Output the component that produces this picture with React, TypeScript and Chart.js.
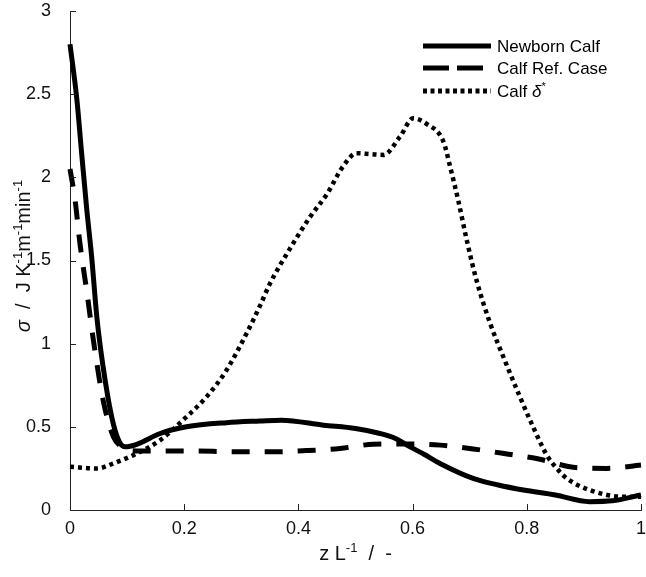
import React, { useEffect, useRef } from 'react';
import { Chart, registerables } from 'chart.js';

Chart.register(...registerables);

// ---- data ----
const NEWBORN_X = [0, 0.012, 0.02, 0.029, 0.038, 0.047, 0.058, 0.073, 0.085, 0.096, 0.117, 0.158, 0.204, 0.274, 0.333, 0.37, 0.444, 0.5, 0.543, 0.57, 0.59, 0.62, 0.648, 0.706, 0.75, 0.794, 0.85, 0.91, 0.95, 1.0];
const NEWBORN_Y = [2.8, 2.47, 2.16, 1.82, 1.52, 1.16, 0.86, 0.56, 0.42, 0.38, 0.395, 0.46, 0.5, 0.525, 0.535, 0.54, 0.51, 0.49, 0.46, 0.43, 0.39, 0.335, 0.28, 0.19, 0.15, 0.12, 0.09, 0.05, 0.055, 0.09];

const REF_X = [0, 0.009, 0.0175, 0.03, 0.041, 0.058, 0.076, 0.09, 0.099, 0.128, 0.2, 0.3, 0.356, 0.414, 0.473, 0.531, 0.59, 0.648, 0.706, 0.765, 0.823, 0.881, 0.94, 1.0];
const REF_Y = [2.05, 1.86, 1.6, 1.3, 1.02, 0.66, 0.44, 0.38, 0.36, 0.355, 0.355, 0.35, 0.35, 0.357, 0.37, 0.395, 0.397, 0.39, 0.367, 0.337, 0.305, 0.257, 0.25, 0.27];

const DELTA_X = [0, 0.047, 0.076, 0.117, 0.158, 0.204, 0.239, 0.274, 0.309, 0.333, 0.35, 0.385, 0.42, 0.45, 0.479, 0.502, 0.525, 0.549, 0.578, 0.601, 0.625, 0.654, 0.666, 0.68, 0.695, 0.712, 0.736, 0.759, 0.788, 0.811, 0.835, 0.855, 0.87, 0.91, 0.969, 1.0];
const DELTA_Y = [0.26, 0.25, 0.28, 0.34, 0.42, 0.56, 0.68, 0.84, 1.06, 1.23, 1.36, 1.57, 1.76, 1.9, 2.07, 2.145, 2.14, 2.135, 2.245, 2.355, 2.32, 2.215, 2.06, 1.86, 1.62, 1.38, 1.12, 0.92, 0.68, 0.5, 0.33, 0.24, 0.19, 0.12, 0.08, 0.08];

const SERIES_LABELS = ['Newborn Calf', 'Calf Ref. Case', 'Calf δ*'];

const X_TICKS = [0, 0.2, 0.4, 0.6, 0.8, 1];
const X_TICK_LABELS = ['0', '0.2', '0.4', '0.6', '0.8', '1'];
const Y_TICKS = [0, 0.5, 1, 1.5, 2, 2.5, 3];
const Y_TICK_LABELS = ['0', '0.5', '1', '1.5', '2', '2.5', '3'];

type Seg = { t: string; it?: boolean; sup?: boolean };
const LEGEND_TEXT: Seg[][] = [
  [{ t: 'Newborn Calf' }],
  [{ t: 'Calf Ref. Case' }],
  [{ t: 'Calf ' }, { t: 'δ', it: true }, { t: '*', sup: true }],
];
const Y_TITLE: Seg[] = [
  { t: 'σ', it: true }, { t: '  /  J K' }, { t: '-1', sup: true }, { t: 'm' }, { t: '-1', sup: true }, { t: 'min' }, { t: '-1', sup: true },
];
const X_TITLE: Seg[] = [{ t: 'z L' }, { t: '-1', sup: true }, { t: '  /  -' }];

const FONT = '"Liberation Sans", Arial, Helvetica, sans-serif';
const DASHES: number[][] = [[], [18, 15], [4, 4]];
const LEGEND_DASHES: number[][] = [[], [26, 8], [4, 3.5]];

function segFont(s: Seg, size: number) {
  const sz = s.sup ? Math.round(size * 0.64) : size;
  return `${s.it ? 'italic ' : ''}${sz}px ${FONT}`;
}

function drawRich(ctx: CanvasRenderingContext2D, segs: Seg[], x: number, y: number, size: number, align: 'left' | 'center') {
  let total = 0;
  const widths = segs.map((s) => {
    ctx.font = segFont(s, size);
    const w = ctx.measureText(s.t).width;
    total += w;
    return w;
  });
  let cx = align === 'center' ? x - total / 2 : x;
  ctx.textBaseline = 'alphabetic';
  ctx.textAlign = 'left';
  segs.forEach((s, i) => {
    ctx.font = segFont(s, size);
    ctx.fillText(s.t, cx, s.sup ? y - size * 0.42 : y);
    cx += widths[i];
  });
}

const decorPlugin = {
  id: 'decor',
  afterDraw(chart: any) {
    const ctx: CanvasRenderingContext2D = chart.ctx;
    const xs = chart.scales.x;
    const ys = chart.scales.y;
    const { left, bottom, right } = chart.chartArea;
    ctx.save();
    // inward tick marks
    ctx.strokeStyle = '#222';
    ctx.lineWidth = 1;
    ctx.setLineDash([]);
    ctx.beginPath();
    X_TICKS.forEach((v) => {
      const px = Math.round(xs.getPixelForValue(v)) + 0.5;
      ctx.moveTo(px, bottom);
      ctx.lineTo(px, bottom - 6);
    });
    Y_TICKS.forEach((v) => {
      const py = Math.round(ys.getPixelForValue(v)) + 0.5;
      ctx.moveTo(left, py);
      ctx.lineTo(left + 6, py);
    });
    ctx.stroke();

    // legend
    ctx.fillStyle = '#000';
    const rows = [46, 68, 91];
    chart.data.datasets.forEach((_ds: any, i: number) => {
      const yy = rows[i];
      ctx.strokeStyle = '#000';
      ctx.lineWidth = 5;
      ctx.lineCap = 'butt';
      ctx.setLineDash(LEGEND_DASHES[i]);
      ctx.beginPath();
      ctx.moveTo(423, yy);
      ctx.lineTo(491, yy);
      ctx.stroke();
      ctx.setLineDash([]);
      drawRich(ctx, LEGEND_TEXT[i], 497, yy + 6, 17, 'left');
    });

    // axis titles
    ctx.fillStyle = '#111';
    drawRich(ctx, X_TITLE, (left + right) / 2, 560, 20, 'center');
    ctx.save();
    ctx.translate(30, 256);
    ctx.rotate(-Math.PI / 2);
    drawRich(ctx, Y_TITLE, 0, 0, 20, 'center');
    ctx.restore();
    ctx.restore();
  },
};

function pts(xs: number[], ys: number[]) {
  return xs.map((x, i) => ({ x, y: ys[i] }));
}

export default function App() {
  const ref = useRef<HTMLCanvasElement | null>(null);
  useEffect(() => {
    if (!ref.current) return;
    const series = [pts(NEWBORN_X, NEWBORN_Y), pts(REF_X, REF_Y), pts(DELTA_X, DELTA_Y)];
    const chart = new Chart(ref.current, {
      type: 'scatter',
      data: {
        datasets: series.map((data, i) => ({
          label: SERIES_LABELS[i],
          data,
          showLine: true,
          borderColor: '#000',
          backgroundColor: '#000',
          borderWidth: i === 2 ? 4.5 : 5,
          borderDash: DASHES[i],
          borderCapStyle: 'butt',
          pointRadius: 0,
          cubicInterpolationMode: 'monotone',
          clip: 6,
        })),
      },
      options: {
        animation: false,
        responsive: false,
        layout: { padding: 0 },
        plugins: { legend: { display: false }, tooltip: { enabled: false } },
        scales: {
          x: {
            type: 'linear',
            min: 0,
            max: 1,
            afterFit: (s: any) => {
              s.height = 67;
              s.paddingLeft = 0;
              s.paddingRight = 5;
              s.paddingTop = 0;
              s.paddingBottom = 0;
            },
            afterBuildTicks: (s: any) => { s.ticks = X_TICKS.map((v) => ({ value: v })); },
            ticks: {
              callback: (v: any) => X_TICK_LABELS[X_TICKS.indexOf(Number(v))] ?? '',
              color: '#111',
              font: { size: 18, family: FONT },
              padding: 0,
              maxRotation: 0,
            },
            grid: { display: false },
            border: { display: true, color: '#222', width: 1 },
          },
          y: {
            type: 'linear',
            min: 0,
            max: 3,
            afterFit: (s: any) => {
              s.width = 70;
              s.paddingTop = 11;
              s.paddingBottom = 0;
              s.paddingLeft = 0;
              s.paddingRight = 0;
            },
            afterBuildTicks: (s: any) => { s.ticks = Y_TICKS.map((v) => ({ value: v })); },
            ticks: {
              callback: (v: any) => Y_TICK_LABELS[Y_TICKS.indexOf(Number(v))] ?? '',
              color: '#111',
              font: { size: 18, family: FONT },
              padding: 11,
            },
            grid: { display: false },
            border: { display: true, color: '#222', width: 1 },
          },
        },
      },
      plugins: [decorPlugin],
    } as any);
    return () => chart.destroy();
  }, []);
  return (
    <div style={{ position: 'absolute', left: 0, top: 0, width: 646, height: 577, background: '#fff' }}>
      <canvas ref={ref} width={646} height={577} style={{ display: 'block' }} />
    </div>
  );
}
